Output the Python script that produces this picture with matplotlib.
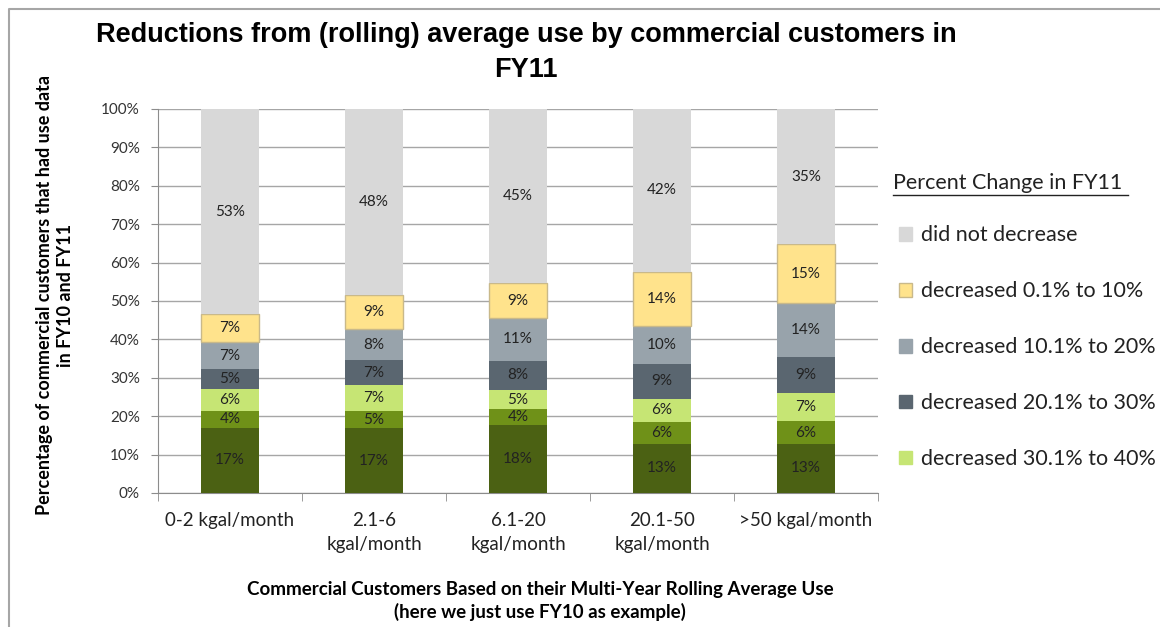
import numpy as np
import matplotlib.pyplot as plt
from matplotlib.patches import Patch
from matplotlib.lines import Line2D

# categories and series (bottom to top), percent of customers
categories = ['0-2 kgal/month', '2.1-6\nkgal/month', '6.1-20\nkgal/month',
              '20.1-50\nkgal/month', '>50 kgal/month']
dec_over_50 = [17.0, 16.8, 17.6, 12.8, 12.8]
dec_40_50 = [4.4, 4.6, 4.2, 5.7, 5.9]
dec_30_40 = [5.6, 6.6, 5.0, 6.1, 7.4]
dec_20_30 = [5.4, 6.6, 7.6, 9.0, 9.2]
dec_10_20 = [6.8, 8.0, 11.2, 9.9, 14.2]
dec_0_10 = [7.4, 9.0, 9.0, 14.1, 15.3]
no_decrease = [53.4, 48.4, 45.4, 42.4, 35.2]

series = [dec_over_50, dec_40_50, dec_30_40, dec_20_30, dec_10_20, dec_0_10, no_decrease]
names = ['decreased more than 50%', 'decreased 40.1% to 50%', 'decreased 30.1% to 40%',
         'decreased 20.1% to 30%', 'decreased 10.1% to 20%', 'decreased 0.1% to 10%',
         'did not decrease']
colors = ['#4b6113', '#6f9118', '#c6e574', '#5a6670', '#98a3ab', '#ffe38c', '#d8d8d8']
edges = ['none', 'none', 'none', 'none', 'none', '#c9b98a', 'none']

body = ['Lato', 'DejaVu Sans']
narrow = ['Liberation Sans Narrow', 'Liberation Sans', 'DejaVu Sans']

fig = plt.figure(figsize=(11.6, 6.27), dpi=100)
ax = fig.add_axes([158/1160, 1-493/627, 720/1160, 384/627])

x = np.arange(len(categories))
bottom = np.zeros(len(categories))
for vals, name, c, ec in zip(series, names, colors, edges):
    vals = np.array(vals)
    ax.bar(x, vals, 0.4, bottom=bottom, color=c, edgecolor=ec, linewidth=1, label=name, zorder=3)
    for xi, b, v in zip(x, bottom, vals):
        ax.text(xi, b + v/2, '%d%%' % round(v), ha='center', va='center',
                fontsize=11, color='#222222', family=body, zorder=4)
    bottom += vals

ax.set_xlim(-0.5, len(categories)-0.5)
ax.set_ylim(0, 100)
ax.set_yticks(np.arange(0, 101, 10))
ax.set_yticklabels(['%d%%' % t for t in range(0, 101, 10)], family=body, fontsize=11, color='#333333')
ax.yaxis.grid(True, color='#a6a6a6', linewidth=1, zorder=0)
ax.set_xticks(x)
ax.set_xticklabels(categories, family=body, fontsize=13.5, color='#222222', linespacing=1.45)
ax.set_xticks(np.arange(-0.5, len(categories)), minor=True)
ax.tick_params(axis='x', which='major', length=0, pad=14)
ax.tick_params(axis='x', which='minor', length=6, color='#8c8c8c')
ax.tick_params(axis='y', length=5, color='#8c8c8c', pad=8)
for s in ['top', 'right']:
    ax.spines[s].set_visible(False)
ax.spines['left'].set_color('#8c8c8c')
ax.spines['bottom'].set_color('#8c8c8c')

fig.text(526/1160, 1-35/627, 'Reductions from (rolling) average use by commercial customers in',
         ha='center', va='center', fontsize=19.5, fontweight='bold', family=narrow)
fig.text(526/1160, 1-70/627, 'FY11', ha='center', va='center', fontsize=19.5,
         fontweight='bold', family=narrow)
fig.text(55/1160, 1-295/627, 'Percentage of commercial customers that had use data\nin FY10 and FY11',
         ha='center', va='center', rotation=90, fontsize=13, fontweight='bold', family=body,
         linespacing=1.3)
fig.text(540/1160, 1-601/627, 'Commercial Customers Based on their Multi-Year Rolling Average Use\n(here we just use FY10 as example)',
         ha='center', va='center', fontsize=13.5, fontweight='bold', family=body, linespacing=1.35)

# legend (only top five entries are visible in the original)
fig.text(893/1160, 1-183/627, 'Percent Change in FY11', ha='left', va='center',
         fontsize=15.5, family=body, color='#222222')
fig.add_artist(Line2D([893/1160, 1128/1160], [1-195/627, 1-195/627], color='#222222', linewidth=1))
handles = [Patch(facecolor=colors[i], edgecolor=edges[i] if edges[i] != 'none' else colors[i])
           for i in [6, 5, 4, 3, 2]]
labels = [names[i] for i in [6, 5, 4, 3, 2]]
fig.legend(handles, labels, loc='upper left', bbox_to_anchor=(880/1160, 1-206/627),
           frameon=False, prop={'family': body, 'size': 15.5}, handlelength=0.6,
           handleheight=0.6, handletextpad=0.4, labelspacing=1.67, labelcolor='#222222')

# chart border
fig.add_artist(Line2D([9/1160, 9/1160, 1.0], [0.0, 1-9/627, 1-9/627], color='#a6a6a6', linewidth=1.5))

fig.savefig('out.png', dpi=100)
